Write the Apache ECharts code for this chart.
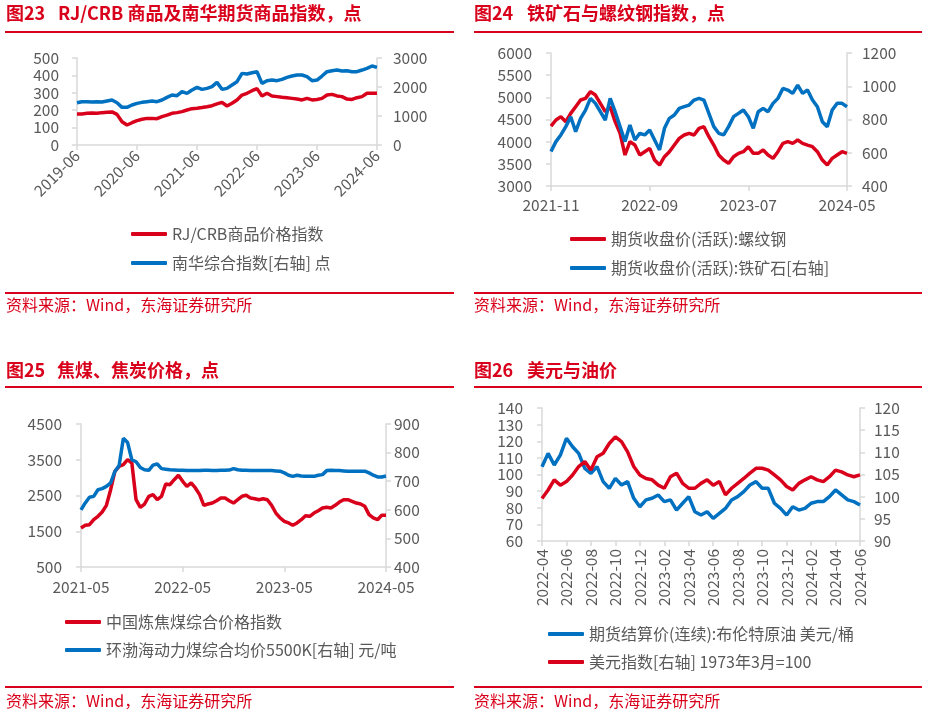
<!DOCTYPE html>
<html><head><meta charset="utf-8">
<script src="https://cdn.jsdelivr.net/npm/echarts@6/dist/echarts.min.js"></script>
<style>html,body{margin:0;padding:0;background:#fff}#c{width:925px;height:716px}</style>
</head><body><div id="c"></div>
<script>
// ---------- categories ----------
function monthCats(y, m, n) {
  const out = [];
  for (let i = 0; i < n; i++) {
    const k = m - 1 + i;
    out.push((y + Math.floor(k / 12)) + '-' + String(k % 12 + 1).padStart(2, '0'));
  }
  return out;
}
function halfMonthCats(y, m, n) {
  const out = [];
  for (let i = 0; i < n; i++) {
    const k = m - 1 + Math.floor(i / 2);
    out.push((y + Math.floor(k / 12)) + '-' + String(k % 12 + 1).padStart(2, '0') + (i % 2 ? '-16' : '-01'));
  }
  return out;
}
const cats1 = monthCats(2019, 6, 61);      // 2019-06 .. 2024-06
const cats2 = halfMonthCats(2021, 11, 61); // 2021-11 .. 2024-05
const cats3 = halfMonthCats(2021, 5, 73);  // 2021-05 .. 2024-05
const cats4 = halfMonthCats(2022, 4, 53);  // 2022-04 .. 2024-06

// ---------- series values ----------
const rjcrb = [178,178,182,184,182,186,188,190,176,134,115,128,140,148,153,153,151,163,172,182,186,192,201,209,211,215,220,226,236,245,224,240,259,287,297,312,324,282,297,282,278,274,272,268,264,259,268,259,262,268,287,291,282,278,264,262,272,278,297,297,297];
const nanhua = [1459,1494,1494,1482,1494,1482,1517,1551,1459,1298,1298,1379,1436,1471,1494,1517,1494,1551,1643,1724,1700,1838,1781,1896,1988,1919,1953,2011,2160,1919,1953,2068,2183,2470,2447,2493,2528,2126,2218,2240,2218,2263,2332,2378,2413,2413,2355,2218,2240,2378,2528,2562,2585,2550,2562,2528,2528,2585,2643,2723,2677];

const rebar = [4350,4489,4564,4451,4639,4789,4940,4977,5128,5052,4864,4676,4789,4451,4188,3699,4000,3924,3699,3774,3849,3586,3473,3661,3774,3924,4075,4150,4188,4150,4300,4338,4112,3924,3699,3586,3511,3661,3736,3774,3887,3736,3736,3812,3699,3624,3774,3962,4000,3962,4037,3962,3924,3887,3774,3586,3473,3624,3699,3774,3736];
const ironOre = [607,667,707,757,817,727,807,857,927,897,847,797,927,847,757,667,767,677,717,707,737,677,617,747,807,827,867,877,887,917,927,917,837,757,717,707,757,817,837,857,817,747,847,867,847,897,927,987,977,957,1007,957,977,917,877,787,757,857,897,897,877];

const coking = [1591,1666,1684,1824,1917,2038,2225,2663,3176,3316,3362,3502,3409,2383,2169,2262,2477,2523,2383,2477,2822,2803,2943,3064,2896,2756,2850,2710,2523,2225,2262,2290,2355,2430,2430,2355,2290,2383,2477,2505,2430,2411,2383,2411,2383,2225,2010,1871,1777,1731,1666,1731,1824,1936,1917,2010,2076,2150,2169,2150,2225,2318,2383,2383,2337,2290,2262,2197,1964,1871,1824,1945,1945];
const thermal = [600,624,644,647,670,674,682,694,734,755,850,835,775,768,748,740,738,756,760,744,742,740,739,738,738,737,737,737,737,738,738,737,737,738,738,739,744,740,738,738,737,737,737,737,737,737,736,735,729,721,717,721,718,717,717,717,721,723,737,738,737,737,736,735,735,735,735,735,729,721,715,715,718];

const brent = [104.7,112.7,105.7,111.7,121.8,116.7,112.7,103.7,100.7,104.7,95.7,91.7,97.7,93.7,95.7,85.7,80.6,84.7,85.7,87.7,83.7,84.7,78.6,82.7,86.7,77.6,75.6,77.6,73.6,76.6,79.6,84.7,86.7,89.7,93.7,95.7,91.7,91.7,82.7,79.6,75.6,80.6,78.6,79.6,82.7,83.7,83.7,86.7,90.7,87.7,84.7,83.7,81.7];
const dxy = [99.6,101.5,103.8,102.6,103.4,104.9,106.8,107.9,106.0,109.0,109.8,112.0,113.5,112.4,110.1,106.8,104.9,104.1,103.8,102.6,101.9,104.5,105.3,103.0,101.9,101.9,103.0,103.8,102.6,103.4,100.4,101.9,103.0,104.1,105.3,106.4,106.4,106.0,104.9,103.8,102.3,101.5,103.0,103.8,104.5,103.8,103.4,104.5,106.0,105.6,104.9,104.5,104.9];

// ---------- texts ----------
const titles = [
  ['图23', 'RJ/CRB 商品及南华期货商品指数，点'],
  ['图24', '铁矿石与螺纹钢指数，点'],
  ['图25', '焦煤、焦炭价格，点'],
  ['图26', '美元与油价']
];
const names = {
  rjcrb: 'RJ/CRB商品价格指数', nanhua: '南华综合指数[右轴] 点',
  rebar: '期货收盘价(活跃):螺纹钢', ironOre: '期货收盘价(活跃):铁矿石[右轴]',
  coking: '中国炼焦煤综合价格指数', thermal: '环渤海动力煤综合均价5500K[右轴] 元/吨',
  brent: '期货结算价(连续):布伦特原油 美元/桶', dxy: '美元指数[右轴] 1973年3月=100'
};
const sourceText = '资料来源：Wind，东海证券研究所';

// ---------- style ----------
const RED = '#D9001B', BLUE = '#0070C0', GRAY = '#595959', AX = '#D9D9D9';
const FONT = '"Noto Sans CJK SC", "Noto Sans", sans-serif';
const FS = 15.5;

function xAxis(gi, data, interval, rotate, margin) {
  return {
    type: 'category', gridIndex: gi, data: data, boundaryGap: false,
    axisLine: { lineStyle: { color: AX, width: 1.5 } },
    axisTick: { show: true, interval: interval, length: 5, lineStyle: { color: AX, width: 1.5 } },
    axisLabel: { interval: interval, rotate: rotate, margin: margin, color: GRAY, fontSize: FS, fontFamily: FONT,
      formatter: v => v.slice(0, 7) },
    splitLine: { show: false }
  };
}
function yAxis(gi, pos, min, max, interval, margin, custom) {
  const a = {
    type: 'value', gridIndex: gi, position: pos, min: min, max: max, interval: interval,
    axisLine: { show: true, lineStyle: { color: AX, width: 1.5 } },
    axisTick: { show: true, length: 5, lineStyle: { color: AX, width: 1.5 } },
    axisLabel: { margin: margin, color: GRAY, fontSize: FS, fontFamily: FONT, formatter: v => String(v) },
    splitLine: { show: false }
  };
  if (custom) { a.axisLabel.customValues = custom; a.axisTick.customValues = custom; }
  return a;
}
function line(name, data, color, xi, yi) {
  return { type: 'line', name: name, data: data, xAxisIndex: xi, yAxisIndex: yi,
    showSymbol: false, symbol: 'none', lineStyle: { color: color, width: 3.5 }, itemStyle: { color: color },
    emphasis: { disabled: true }, animation: false };
}
function legend(name, left, cy) {
  return { data: [name], left: left, top: cy - 9, padding: 0, icon: 'roundRect', itemWidth: 36, itemHeight: 4,
    textStyle: { color: GRAY, fontSize: 16, fontFamily: FONT }, selectedMode: false };
}
function titleEls(t, x, x2, y) {
  return [
    { type: 'text', left: x, top: y - 12, style: { text: t[0], fill: RED, font: 'bold 18px ' + FONT } },
    { type: 'text', left: x2, top: y - 12, style: { text: t[1], fill: RED, font: 'bold 18px ' + FONT } }
  ];
}
function rule(x1, x2, y) {
  return { type: 'line', shape: { x1: x1, y1: y, x2: x2, y2: y }, style: { stroke: RED, lineWidth: 2 } };
}
function source(x, y) {
  return { type: 'text', left: x, top: y - 11, style: { text: sourceText, fill: RED, font: '16px ' + FONT } };
}

const option = {
  backgroundColor: '#fff',
  animation: false,
  grid: [
    { left: 77, top: 58, width: 300, height: 87, outerBoundsMode: 'none' },
    { left: 551, top: 53, width: 296, height: 133, outerBoundsMode: 'none' },
    { left: 81, top: 424, width: 305, height: 143, outerBoundsMode: 'none' },
    { left: 542, top: 408, width: 318, height: 133, outerBoundsMode: 'none' }
  ],
  xAxis: [
    xAxis(0, cats1, 11, 45, 8),
    xAxis(1, cats2, 19, 0, 11),
    xAxis(2, cats3, 23, 0, 12),
    xAxis(3, cats4, 3, 90, 8)
  ],
  yAxis: [
    yAxis(0, 'left', 0, 500, 100, 18),
    yAxis(0, 'right', 0, 3000, 1000, 16),
    yAxis(1, 'left', 3000, 6000, 500, 19),
    yAxis(1, 'right', 400, 1200, 200, 15),
    yAxis(2, 'left', 500, 4500, 1000, 19, [500, 1500, 2500, 3500, 4500]),
    yAxis(2, 'right', 400, 900, 100, 8),
    yAxis(3, 'left', 60, 140, 10, 19),
    yAxis(3, 'right', 90, 120, 5, 14)
  ],
  legend: [
    legend(names.rjcrb, 131, 235), legend(names.nanhua, 131, 264),
    legend(names.rebar, 570, 240), legend(names.ironOre, 570, 269),
    legend(names.coking, 65, 623), legend(names.thermal, 65, 651),
    legend(names.brent, 548, 635), legend(names.dxy, 548, 663)
  ],
  series: [
    line(names.rjcrb, rjcrb, RED, 0, 0),
    line(names.nanhua, nanhua, BLUE, 0, 1),
    line(names.rebar, rebar, RED, 1, 2),
    line(names.ironOre, ironOre, BLUE, 1, 3),
    line(names.coking, coking, RED, 2, 4),
    line(names.thermal, thermal, BLUE, 2, 5),
    line(names.brent, brent, BLUE, 3, 6),
    line(names.dxy, dxy, RED, 3, 7)
  ],
  graphic: [].concat(
    titleEls(titles[0], 6, 58, 16), titleEls(titles[1], 474, 527, 16),
    titleEls(titles[2], 6, 57, 373), titleEls(titles[3], 474, 527, 373),
    [rule(5, 454, 32), rule(474, 922, 32), rule(5, 454, 387), rule(474, 922, 387),
     rule(5, 454, 293), rule(474, 922, 293), rule(5, 454, 687), rule(474, 922, 687),
     source(6, 308), source(474, 308), source(6, 704), source(474, 704)]
  )
};
const chart = echarts.init(document.getElementById('c'), null, { renderer: 'canvas' });
chart.setOption(option);
</script></body></html>
